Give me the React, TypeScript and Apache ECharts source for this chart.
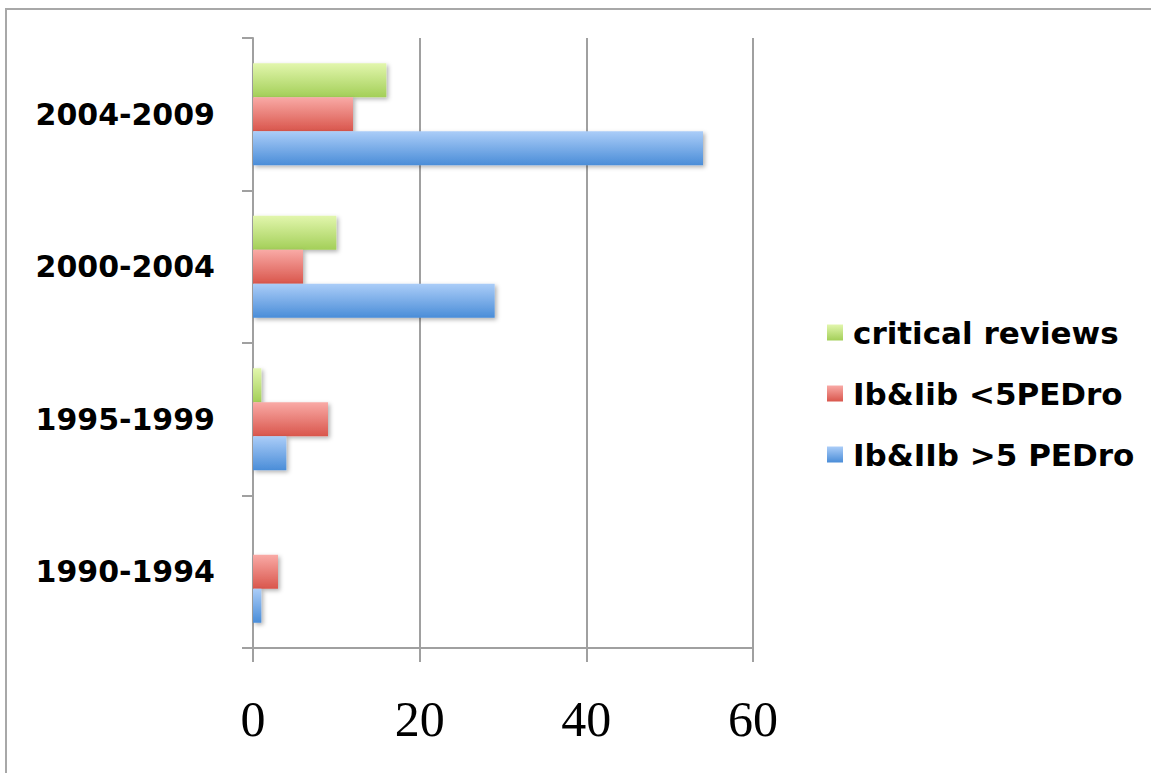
import React, { useEffect, useRef } from "react";
import * as echarts from "echarts";

const categories = ["1990-1994", "1995-1999", "2000-2004", "2004-2009"];
const seriesNames = ["critical reviews", "Ib&Iib <5PEDro", "Ib&IIb >5 PEDro"];
const criticalReviews = [0, 1, 10, 16];
const lowPedro = [3, 9, 6, 12];
const highPedro = [1, 4, 29, 54];
const xTicks = { min: 0, max: 60, interval: 20 };

const grad = (top: string, bottom: string) =>
  new echarts.graphic.LinearGradient(0, 0, 0, 1, [
    { offset: 0, color: top },
    { offset: 1, color: bottom },
  ]);

export default function App() {
  const ref = useRef<HTMLDivElement>(null);
  useEffect(() => {
    const chart = echarts.init(ref.current!, null, { renderer: "svg" });
    const colors = [
      grad("#e2f6ad", "#a3cf58"),
      grad("#f9aaa6", "#d9564c"),
      grad("#abcdf8", "#4a8dd8"),
    ];
    const datas = [criticalReviews, lowPedro, highPedro];
    chart.setOption({
      animation: false,
      backgroundColor: "#ffffff",
      graphic: [
        {
          type: "rect",
          shape: { x: 6, y: 9, width: 1300, height: 900 },
          style: { fill: "none", stroke: "#a8a8a8", lineWidth: 2 },
          silent: true,
        },
      ],
      legend: {
        orient: "vertical",
        left: 822,
        top: 312,
        itemWidth: 16,
        itemHeight: 16,
        itemGap: 30,
        icon: "rect",
        textStyle: {
          fontFamily: "DejaVu Sans",
          fontWeight: "bold",
          fontSize: 31,
          color: "#000",
          padding: [0, 0, 0, 5],
        },
        data: seriesNames,
      },
      grid: { left: 253, right: 398, top: 38, bottom: 125, containLabel: false },
      xAxis: {
        type: "value",
        min: xTicks.min,
        max: xTicks.max,
        interval: xTicks.interval,
        axisLine: { show: true, lineStyle: { color: "#a0a0a0", width: 2 } },
        axisTick: { show: true, length: 14, lineStyle: { color: "#a0a0a0", width: 2 } },
        splitLine: { show: true, lineStyle: { color: "#a0a0a0", width: 2 } },
        axisLabel: {
          fontFamily: "Liberation Serif",
          fontSize: 50,
          color: "#000",
          margin: 46,
        },
      },
      yAxis: {
        type: "category",
        data: categories,
        axisLine: { show: true, lineStyle: { color: "#a0a0a0", width: 2 } },
        axisTick: { show: true, length: 11, lineStyle: { color: "#a0a0a0", width: 2 } },
        axisLabel: {
          fontFamily: "DejaVu Sans",
          fontWeight: "bold",
          fontSize: 30,
          color: "#000",
          margin: 38,
        },
      },
      series: seriesNames.map((name, i) => ({
        name,
        type: "bar",
        data: datas[i],
        barWidth: 34,
        barGap: "0%",
        itemStyle: {
          color: colors[i],
          shadowColor: "rgba(0,0,0,0.3)",
          shadowBlur: 4,
          shadowOffsetX: 2,
          shadowOffsetY: 2,
        },
      })),
    });
    return () => chart.dispose();
  }, []);
  return (
    <div
      ref={ref}
      style={{ position: "fixed", left: 0, top: 0, width: 1151, height: 773 }}
    />
  );
}
